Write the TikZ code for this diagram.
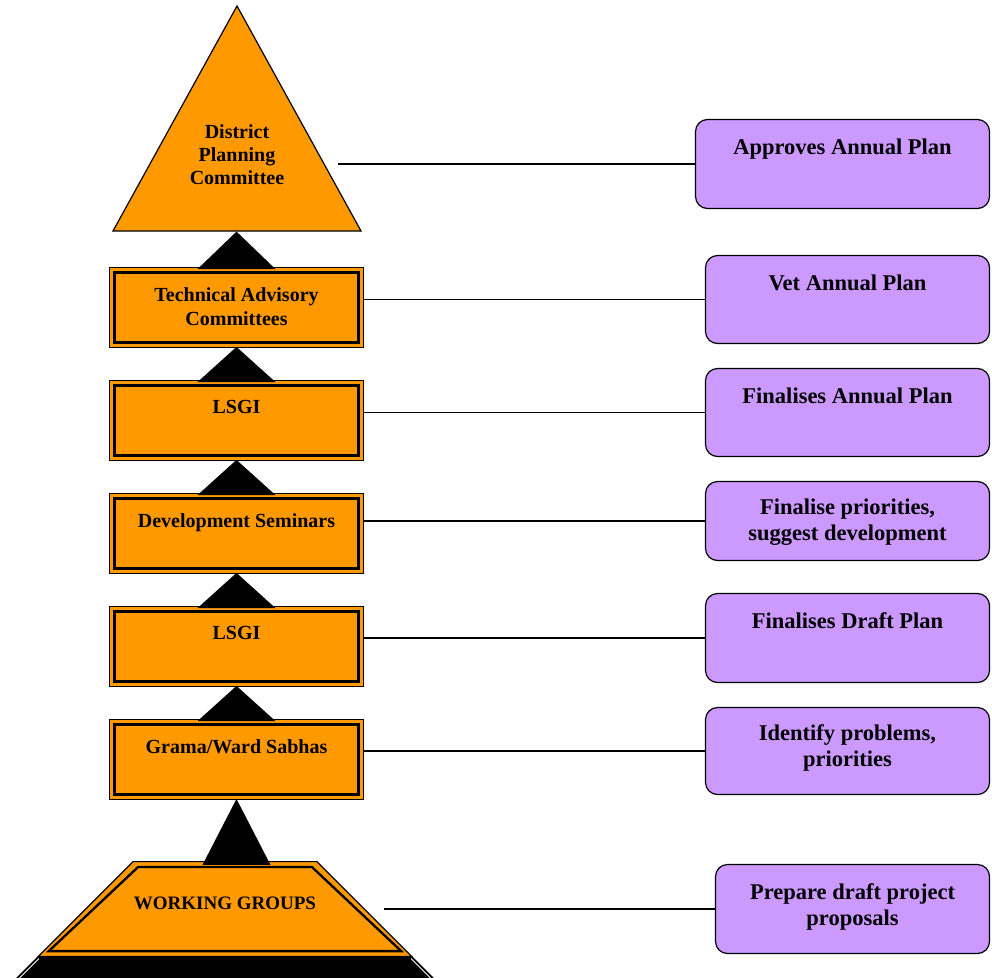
\documentclass[tikz,border=0pt]{standalone}
\usepackage{fontspec}
\setmainfont{Liberation Serif}
\usetikzlibrary{calc}
\definecolor{orgc}{HTML}{FF9900}
\definecolor{purc}{HTML}{CC99FF}
\begin{document}
\begin{tikzpicture}[x=1pt,y=-1pt,
  lt/.style={font=\fontsize{20}{23.5}\selectfont\bfseries, align=center, inner sep=0pt, anchor=north},
  rt/.style={font=\fontsize{22.5}{26}\selectfont\bfseries, align=center, inner sep=0pt, anchor=north},
  obox/.style={draw=black, line width=1.2pt, fill=orgc, minimum width=254.6pt, minimum height=80.6pt, inner sep=0pt},
  inb/.style={draw=black, line width=2.3pt},
  pbox/.style={draw=black, line width=1.2pt, fill=purc, rounded corners=12pt, inner sep=0pt},
  link/.style={line width=1.3pt},
  conn/.style={fill=black}
]
\useasboundingbox (0,0) rectangle (992,977);
\clip (0,0) rectangle (992,977);

% purple boxes
\node[pbox, minimum width=294pt, minimum height=89pt] (p1) at (842.5,164) {};
\node[pbox, minimum width=284pt, minimum height=88pt] (p2) at (847.5,299.5) {};
\node[pbox, minimum width=284pt, minimum height=88pt] (p3) at (847.5,412.5) {};
\node[pbox, minimum width=284pt, minimum height=79pt] (p4) at (847.5,521) {};
\node[pbox, minimum width=284pt, minimum height=89pt] (p5) at (847.5,638) {};
\node[pbox, minimum width=284pt, minimum height=87pt] (p6) at (847.5,751) {};
\node[pbox, minimum width=274pt, minimum height=89pt] (p7) at (852.5,909) {};

\node[rt] (p1t) at ($(p1.north)+(0,20)$) {Approves Annual Plan};
\node[rt] (p2t) at ($(p2.north)+(0,20)$) {Vet Annual Plan};
\node[rt] (p3t) at ($(p3.north)+(0,20)$) {Finalises Annual Plan};
\node[rt] (p4t) at ($(p4.north)+(0,18)$) {Finalise priorities,\\suggest development};
\node[rt] (p5t) at ($(p5.north)+(0,20)$) {Finalises Draft Plan};
\node[rt] (p6t) at ($(p6.north)+(0,17.5)$) {Identify problems,\\priorities};
\node[rt] (p7t) at ($(p7.north)+(0,19.5)$) {Prepare draft project\\proposals};

% link free ends
\coordinate (dpcc) at (338,164);
\coordinate (wgc) at (384,909);

% left boxes
\node[obox] (tac) at (236.5,307.5) {};
\node[obox] (ls1) at (236.5,420.5) {};
\node[obox] (dev) at (236.5,533.5) {};
\node[obox] (ls2) at (236.5,646.5) {};
\node[obox] (gws) at (236.5,759.5) {};
\foreach \n in {tac,ls1,dev,ls2,gws}
  \draw[inb] ($(\n.north west)+(5.9,5.9)$) rectangle ($(\n.south east)+(-5.9,-5.9)$);

% links
\draw[link] (dpcc) -- (p1.west);
\draw[link] (tac.east |- p2.west) -- (p2.west);
\draw[link] (ls1.east |- p3.west) -- (p3.west);
\draw[link] (dev.east |- p4.west) -- (p4.west);
\draw[link] (ls2.east |- p5.west) -- (p5.west);
\draw[link] (gws.east |- p6.west) -- (p6.west);
\draw[link] (wgc) -- (p7.west);

% top triangle
\filldraw[fill=orgc, draw=black, line width=1.2pt, line join=miter] (237,6) -- (361,231) -- (113,231) -- cycle;
\node[lt, font=\fontsize{20}{23}\selectfont\bfseries] (dpct) at (237,124.5) {District\\Planning\\Committee};

% bottom black trapezoid (next level, cut off)
\fill[black] (37,957) -- (413,957) -- (453,997) -- (-3,997) -- cycle;
\draw[white, line width=0.9pt] (39,958.5) -- (0,997.5);
\draw[white, line width=0.9pt] (411,958.5) -- (450,997.5);

% working groups trapezoid
\filldraw[fill=orgc, draw=black, line width=1.2pt, line join=miter]
  (133.2,861.6) -- (316.8,861.6) -- (411.6,956.4) -- (38.4,956.4) -- cycle;
\draw[inb, line join=miter]
  (138.2,866.9) -- (311.8,866.9) -- (401.2,951.1) -- (48.8,951.1) -- cycle;
\node[inner sep=0pt, anchor=base, font=\fontsize{19}{22}\selectfont\bfseries] (wgt) at (225,909.5) {WORKING GROUPS};

% black connector triangles
\fill[conn] ($(tac.north)+(0,-35)$) -- ($(tac.north)+(39,2.5)$) -- ($(tac.north)+(-39,2.5)$) -- cycle;
\foreach \a/\b in {tac/ls1, ls1/dev, dev/ls2, ls2/gws}
  \fill[conn] ($(\a.south)+(0,-1.5)$) -- ($(\b.north)+(39,2.5)$) -- ($(\b.north)+(-39,2.5)$) -- cycle;
\fill[conn] ($(gws.south)+(0,-1.5)$) -- ($(gws.south)+(34,64.5)$) -- ($(gws.south)+(-34,64.5)$) -- cycle;

% left texts
\node[lt] (tact) at (236.5,287.5) {Technical Advisory\\Committees};
\node[lt] (ls1t) at (236.5,400.5) {LSGI};
\node[lt] (devt) at (236.5,513.5) {Development Seminars};
\node[lt] (ls2t) at (236.5,626.5) {LSGI};
\node[lt] (gwst) at (236.5,739.5) {Grama/Ward Sabhas};
\end{tikzpicture}
\end{document}
